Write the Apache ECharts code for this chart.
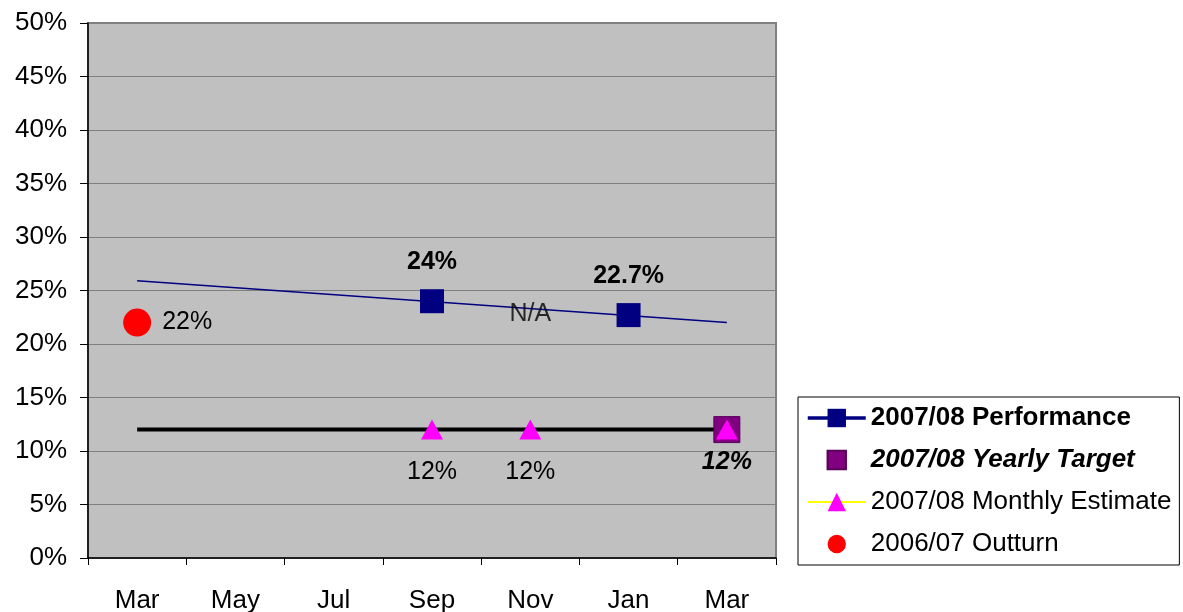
<!DOCTYPE html>
<html>
<head>
<meta charset="UTF-8">
<title>2007/08 Performance</title>
<script src="https://cdn.jsdelivr.net/npm/echarts@6/dist/echarts.min.js"></script>
<style>
  html, body { margin: 0; padding: 0; background: #fff; }
  #chart { width: 1183px; height: 612px; }
</style>
</head>
<body>
<div id="chart"></div>
<script>
// categories (every other month)
var months = ['Mar', 'May', 'Jul', 'Sep', 'Nov', 'Jan', 'Mar'];
// values in %
var performance = [null, null, null, 24, null, 22.7, null];
var yearlyTarget = [null, null, null, null, null, null, 12];
var monthlyEstimate = [null, null, null, 12, 12, null, 12];
var outturn = [22, null, null, null, null, null, null];
// trend line (ends only)
var trend = [25.9, null, null, null, null, null, 22.0];
// target level drawn as a black line
var targetLine = [12, null, null, null, null, null, 12];
// N/A note position
var naNote = [null, null, null, null, 22.8, null, null];
var yTicks = [0, 50, 5];

var FONT = '"Liberation Sans", Arial, sans-serif';
var chart = echarts.init(document.getElementById('chart'));

var pct = function (p) { return p.value + '%'; };

var option = {
  animation: false,
  textStyle: { fontFamily: FONT },
  grid: {
    left: 88, top: 23, right: 407, bottom: 54,
    outerBoundsMode: 'none',
    show: true,
    backgroundColor: '#C0C0C0',
    borderColor: '#808080',
    borderWidth: 2
  },
  legend: {
    orient: 'vertical',
    left: 798,
    top: 397,
    padding: [8, 8, 8, 8],
    borderColor: '#000',
    borderWidth: 1,
    itemWidth: 58,
    itemHeight: 23,
    itemGap: 16,
    textStyle: { fontFamily: FONT, fontSize: 26, color: '#000' },
    data: [
      { name: '2007/08 Performance', textStyle: { fontWeight: 'bold' },
        lineStyle: { color: '#000080', width: 3.5, opacity: 1 } },
      { name: '2007/08 Yearly Target', textStyle: { fontWeight: 'bold', fontStyle: 'italic' } },
      { name: '2007/08 Monthly Estimate', lineStyle: { color: '#FFFF00', width: 2, opacity: 1 } },
      { name: '2006/07 Outturn' }
    ]
  },
  xAxis: {
    type: 'category',
    data: months,
    boundaryGap: true,
    axisLine: { lineStyle: { color: '#000', width: 1.5 } },
    axisTick: { show: true, length: 7, lineStyle: { color: '#000' } },
    axisLabel: { fontSize: 26, color: '#000', margin: 30, fontFamily: FONT },
    splitLine: { show: false }
  },
  yAxis: {
    type: 'value',
    min: yTicks[0],
    max: yTicks[1],
    interval: yTicks[2],
    axisLine: { show: true, lineStyle: { color: '#000', width: 1.5 } },
    axisTick: { show: true, length: 8, lineStyle: { color: '#000' } },
    axisLabel: { fontSize: 26, color: '#000', margin: 21, formatter: '{value}%', fontFamily: FONT },
    splitLine: { lineStyle: { color: '#808080', width: 1 } }
  },
  series: [
    {
      name: 'trend',
      type: 'line',
      data: trend,
      connectNulls: true,
      symbol: 'none',
      lineStyle: { color: '#000080', width: 1.5 },
      z: 2
    },
    {
      name: 'target level',
      type: 'line',
      data: targetLine,
      connectNulls: true,
      symbol: 'none',
      lineStyle: { color: '#000', width: 4 },
      z: 3
    },
    {
      name: '2007/08 Performance',
      type: 'line',
      data: performance,
      connectNulls: false,
      symbol: 'rect',
      symbolSize: 24,
      showAllSymbol: true,
      itemStyle: { color: '#000080', opacity: 1 },
      lineStyle: { color: '#000080', width: 3.5 },
      label: {
        show: true, position: 'top', distance: 15,
        fontSize: 25, fontWeight: 'bold', color: '#000', fontFamily: FONT,
        formatter: pct
      },
      z: 5
    },
    {
      name: '2007/08 Yearly Target',
      type: 'line',
      data: yearlyTarget,
      symbol: 'rect',
      symbolSize: 26,
      showAllSymbol: true,
      itemStyle: { color: '#800080', borderColor: '#5A005A', borderWidth: 1, opacity: 1 },
      lineStyle: { opacity: 0 },
      label: {
        show: true, position: 'bottom', distance: 7,
        fontSize: 25, fontWeight: 'bold', fontStyle: 'italic', color: '#000', fontFamily: FONT,
        formatter: pct
      },
      z: 4
    },
    {
      name: '2007/08 Monthly Estimate',
      type: 'line',
      data: monthlyEstimate,
      symbol: 'triangle',
      symbolSize: [22, 20],
      showAllSymbol: true,
      itemStyle: { color: '#FF00FF', opacity: 1 },
      lineStyle: { color: '#FFFF00', width: 2, opacity: 0 },
      label: {
        show: true, position: 'bottom', distance: 20,
        fontSize: 25, color: '#000', fontFamily: FONT,
        formatter: function (p) { return p.dataIndex === months.length - 1 ? '' : p.value + '%'; }
      },
      z: 6
    },
    {
      name: '2006/07 Outturn',
      type: 'line',
      data: outturn,
      symbol: 'circle',
      symbolSize: 28,
      showAllSymbol: true,
      itemStyle: { color: '#FF0000', opacity: 1 },
      lineStyle: { opacity: 0 },
      label: {
        show: true, position: 'right', distance: 11,
        fontSize: 25, color: '#000', fontFamily: FONT,
        formatter: pct
      },
      z: 5
    },
    {
      name: 'N/A',
      type: 'scatter',
      data: naNote,
      symbolSize: 0,
      label: {
        show: true, position: 'inside',
        fontSize: 25, color: '#000', fontFamily: FONT,
        formatter: 'N/A'
      },
      z: 7
    }
  ]
};

chart.setOption(option);
</script>
</body>
</html>
